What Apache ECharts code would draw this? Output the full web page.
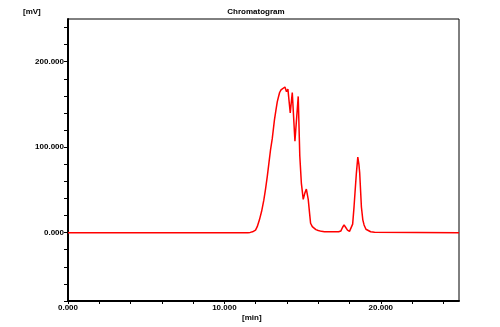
<!DOCTYPE html>
<html>
<head>
<meta charset="utf-8">
<script src="https://cdn.jsdelivr.net/npm/echarts@6/dist/echarts.min.js"></script>
<style>
  html, body { margin: 0; padding: 0; background: #fff; }
  #chart { width: 500px; height: 327px; }
</style>
</head>
<body>
<div id="chart"></div>
<script>
// retention time [min]
const times = [
  0, 11.5, 11.65, 11.8, 11.99, 12.1, 12.24, 12.38, 12.52, 12.63,
  12.74, 12.85, 12.95, 13.06, 13.2, 13.3, 13.38, 13.46, 13.53, 13.62,
  13.7, 13.87, 13.97, 14.06, 14.21, 14.34, 14.51, 14.72, 14.82, 14.92,
  15.04, 15.14, 15.24, 15.36, 15.45, 15.51, 15.62, 15.73, 15.85, 16.0,
  16.2, 16.4, 17.3, 17.45, 17.55, 17.65, 17.76, 17.87, 18.0, 18.08,
  18.2, 18.29, 18.37, 18.44, 18.53, 18.6, 18.65, 18.76, 18.85, 18.93,
  19.05, 19.15, 19.35, 19.6, 25
];
// signal [mV]
const signal = [
  0, 0, 0.3, 1, 3, 7, 15, 25, 38, 51,
  65.6, 82, 97, 110, 132, 144, 153, 159, 164, 167,
  168.4, 170.4, 165, 168, 140, 164, 107, 159.4, 90, 58,
  39, 46, 51, 39, 22, 11, 7, 5, 3.5, 2.5,
  1.5, 1, 1, 2, 6, 9, 6, 3, 1.5, 2,
  10, 30.5, 52, 70, 88.3, 80, 70, 30, 15, 9,
  4, 2, 1, 0.5, 0
];
const yLabelTicks = [0, 100, 200];
const xLabelTicks = [0, 10, 20];

const chart = echarts.init(document.getElementById("chart"));

const points = times.map((t, i) => [t, signal[i]]);
const fmt = (list) => (v) => (list.includes(Math.round(v * 1000) / 1000) ? v.toFixed(3) : "");

chart.setOption({
  animation: false,
  title: {
    text: "Chromatogram",
    left: 251,
    textAlign: "center",
    top: 3,
    textStyle: { fontFamily: "Liberation Sans", fontSize: 8, fontWeight: "bold", color: "#000" }
  },
  graphic: [
    {
      type: "text", left: 23, top: 8,
      style: { text: "[mV]", font: "bold 8px Liberation Sans", fill: "#000" }
    },
    {
      type: "text", left: 242, top: 314,
      style: { text: "[min]", font: "bold 8px Liberation Sans", fill: "#000" }
    }
  ],
  grid: {
    left: 68, top: 19, right: 41, bottom: 26,
    show: true, borderColor: "#000", borderWidth: 1
  },
  xAxis: {
    type: "value",
    min: 0, max: 25, interval: 2,
    axisLine: { show: true, onZero: false, lineStyle: { color: "#000", width: 2 } },
    axisTick: { show: true, length: 3, lineStyle: { color: "#000", width: 1 } },
    axisLabel: {
      formatter: fmt(xLabelTicks), margin: 3,
      fontFamily: "Liberation Sans", fontSize: 8, fontWeight: "bold", color: "#000",
      showMaxLabel: false
    },
    splitLine: { show: false }
  },
  yAxis: {
    type: "value",
    min: -80, max: 250, interval: 20,
    axisLine: { show: true, onZero: false, lineStyle: { color: "#000", width: 2 } },
    axisTick: { show: true, length: 4, lineStyle: { color: "#000", width: 1 } },
    axisLabel: {
      formatter: fmt(yLabelTicks), margin: 4,
      fontFamily: "Liberation Sans", fontSize: 8, fontWeight: "bold", color: "#000",
      showMaxLabel: false
    },
    splitLine: { show: false }
  },
  series: [
    {
      type: "line",
      data: points,
      smooth: false,
      symbol: "none",
      lineStyle: { color: "#ff0000", width: 1.5 }
    }
  ]
});
</script>
</body>
</html>
